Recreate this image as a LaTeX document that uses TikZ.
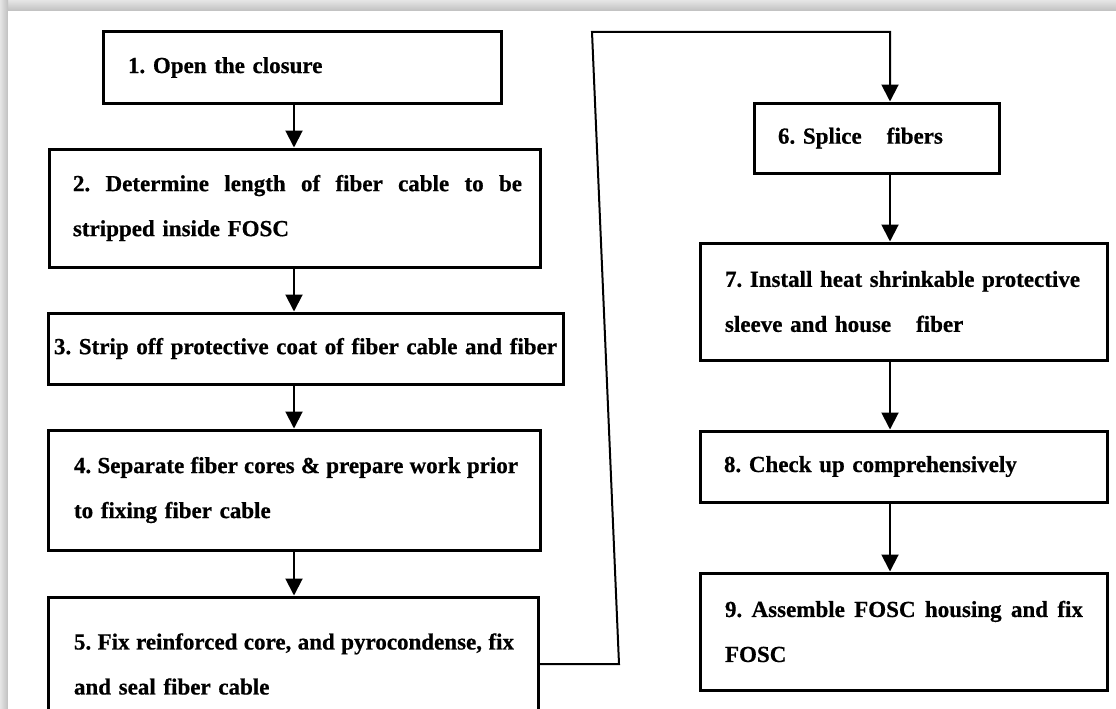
\documentclass[tikz,border=0pt]{standalone}
\usepackage{fontspec}
\setmainfont{Liberation Serif}[BoldFeatures={FakeBold=0.6}]
\usetikzlibrary{arrows.meta}
\newcommand\boxfont{\fontsize{23}{45}\selectfont\bfseries\frenchspacing}
\newcommand\jline[2]{\makebox[#1][s]{\spaceskip=0.25em plus 1fil\relax #2}}
\begin{document}
\begin{tikzpicture}[x=1pt,y=-1pt,
  box/.style={draw, line width=3pt, rectangle, inner sep=0pt, align=left, font=\boxfont},
  arr/.style={line width=2pt, -{Triangle[width=17pt,length=17pt]}}]
\clip (0,0) rectangle (1116,709);
% shadow bands and page
\fill[gray!35] (0,0) rectangle (1116,709);
\shade[top color=gray!20, bottom color=gray!50] (0,0) rectangle (1116,11);
\shade[left color=gray!20, right color=gray!50] (0,0) rectangle (8,709);
\fill[white] (8,11) rectangle (1116,709);
% left column
\node[box, text width=398pt, minimum height=71pt] (b1) at (302,67.5)
  {\hspace*{25pt}1. Open the closure};
\node[box, text width=491pt, minimum height=118pt] (b2) at (294.5,208)
  {\hspace*{24pt}\jline{449pt}{2. Determine length of fiber cable to be}\\
   \hspace*{24pt}stripped inside FOSC};
\node[box, align=center, text width=515pt, minimum height=71pt] (b3) at (305.5,348.5)
  {\jline{503pt}{3. Strip off protective coat of fiber cable and fiber}};
\node[box, text width=492pt, minimum height=120pt] (b4) at (294,490)
  {\hspace*{26pt}\jline{444pt}{4. Separate fiber cores \& prepare work prior}\\
   \hspace*{26pt}to fixing fiber cable};
\node[box, text width=490pt, minimum height=134pt] (b5) at (293,664)
  {\hspace*{26pt}\jline{440pt}{5. Fix reinforced core, and pyrocondense, fix}\\
   \hspace*{26pt}and seal fiber cable};
% right column
\node[box, text width=245pt, minimum height=70pt] (b6) at (876.5,138)
  {\hspace*{24pt}6. Splice\hspace{25pt}fibers};
\node[box, text width=407pt, minimum height=117pt] (b7) at (903.5,301.5)
  {\hspace*{25pt}\jline{355pt}{7. Install heat shrinkable protective}\\
   \hspace*{25pt}sleeve and house\hspace{25pt}fiber};
\node[box, text width=407pt, minimum height=71pt] (b8) at (903.5,466.5)
  {\hspace*{24pt}8. Check up comprehensively};
\node[box, text width=407pt, minimum height=117pt] (b9) at (903.5,631.5)
  {\hspace*{25pt}\jline{358pt}{9. Assemble FOSC housing and fix}\\
   \hspace*{25pt}FOSC};
% connector columns
\coordinate (lx) at (294,0);
\coordinate (rx) at (890,0);
\coordinate (k1) at (619,664);
\coordinate (k2) at (592,32);
\coordinate (k3) at (890,32);
\draw[arr] (b1.south -| lx) -- (b2.north -| lx);
\draw[arr] (b2.south -| lx) -- (b3.north -| lx);
\draw[arr] (b3.south -| lx) -- (b4.north -| lx);
\draw[arr] (b4.south -| lx) -- (b5.north -| lx);
\draw[arr] (b5.east) -- (k1) -- (k2) -- (k3) -- (b6.north -| rx);
\draw[arr] (b6.south -| rx) -- (b7.north -| rx);
\draw[arr] (b7.south -| rx) -- (b8.north -| rx);
\draw[arr] (b8.south -| rx) -- (b9.north -| rx);
\end{tikzpicture}
\end{document}
